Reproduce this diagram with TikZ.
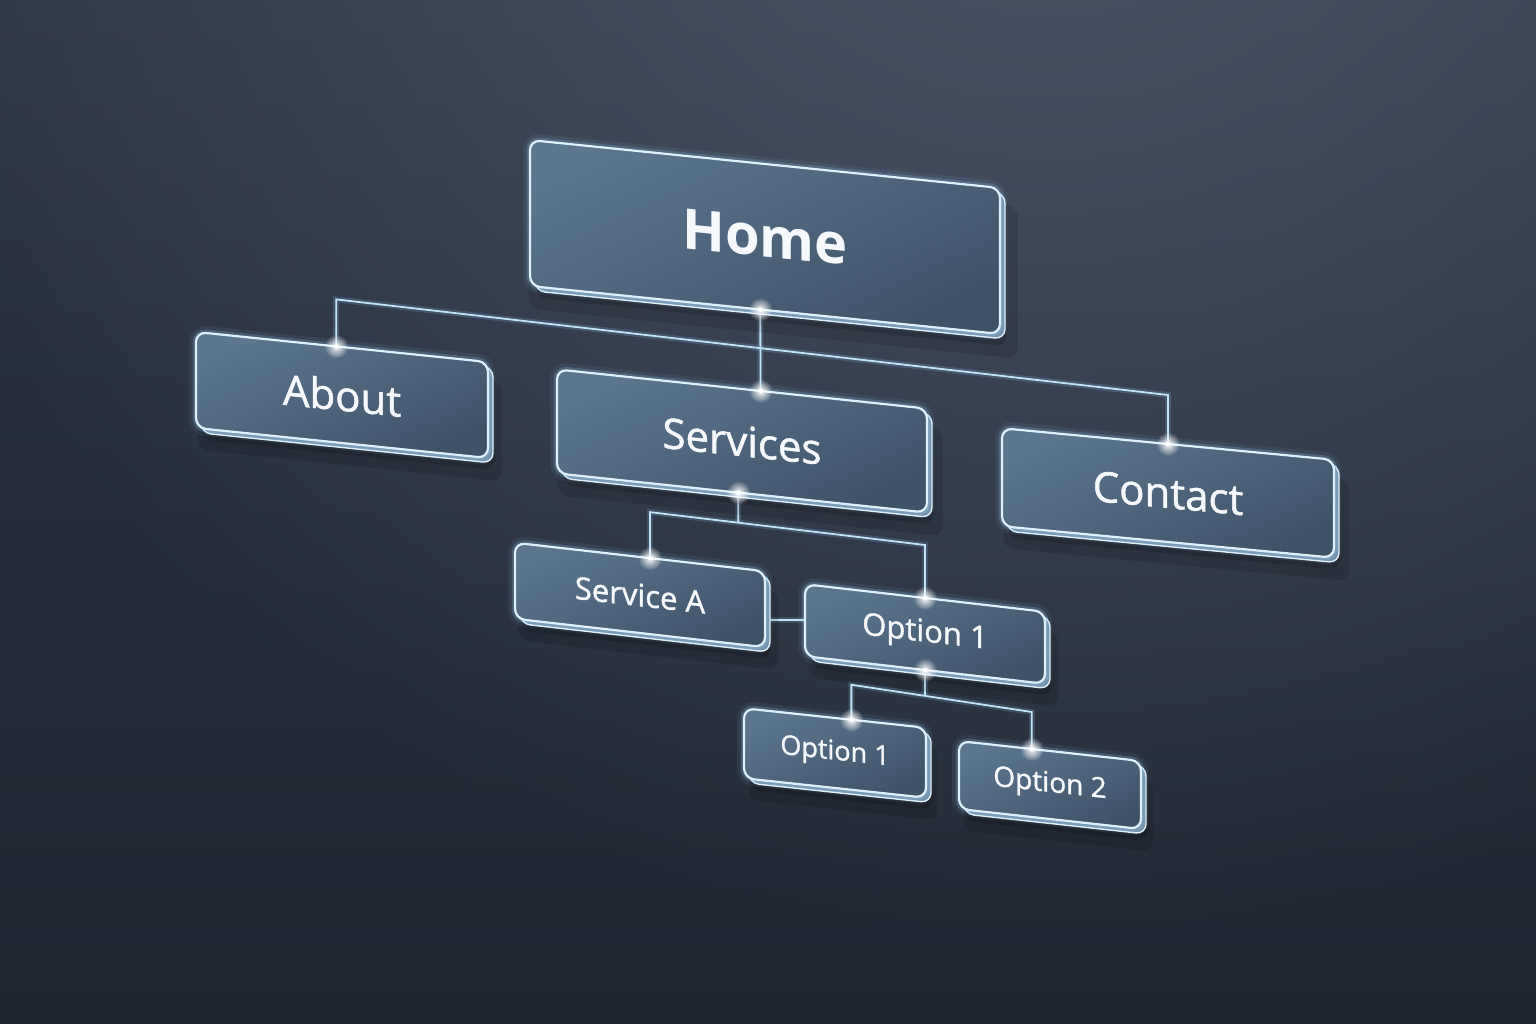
\documentclass[tikz,border=0pt]{standalone}
\usepackage{fontspec}
\setmainfont{Open Sans}
\newfontfamily\medfont[FakeBold=1.2]{Open Sans}
\usetikzlibrary{calc,shadows,fadings,intersections}
\definecolor{bgtop}{HTML}{2C3545}
\definecolor{bgbot}{HTML}{1F2632}
\definecolor{bghi}{HTML}{4E596B}
\definecolor{facetop}{HTML}{5C7690}
\definecolor{facebot}{HTML}{3F5368}
\definecolor{cardside}{HTML}{7592AC}
\definecolor{edgec}{HTML}{DDF0FB}
\definecolor{glowc}{HTML}{8EC8EF}
\definecolor{wirec}{HTML}{C2E2F6}
\definecolor{txt}{HTML}{F6F9FC}
\tikzfading[name=glowfade, inner color=transparent!0, outer color=transparent!100]
\pgfdeclarelayer{bg}
\pgfdeclarelayer{edges}
\pgfsetlayers{bg,edges,main}
\begin{document}
\begin{tikzpicture}[x=1pt,y=-1pt,
  card/.style={rectangle, rounded corners=10pt, transform shape, outer sep=0pt, inner sep=0pt,
    general shadow={fill=black, opacity=0.12, shadow xshift=8pt, shadow yshift=-20pt, shadow scale=1.04},
    general shadow={fill=black, opacity=0.14, shadow xshift=6pt, shadow yshift=-12pt},
    preaction={draw=glowc, line width=14pt, draw opacity=0.08},
    copy shadow={shadow xshift=5pt, shadow yshift=-5pt, fill=cardside, draw=edgec, line width=1.4pt, opacity=1},
    preaction={draw=glowc, line width=7pt, draw opacity=0.22},
    top color=facetop, bottom color=facebot, shading angle=25, draw=edgec, line width=2.2pt, text=txt},
  wire/.style={draw=wirec, line width=1.8pt, preaction={draw=glowc, line width=6pt, draw opacity=0.18}},
  bigtxt/.style={font=\bfseries\fontsize{56pt}{60pt}\selectfont},
  midtxt/.style={font=\medfont\fontsize{42pt}{46pt}\selectfont},
  smalltxt/.style={font=\medfont\fontsize{#1pt}{#1pt}\selectfont}
]
\useasboundingbox (0,0) rectangle (1536,1024);
\begin{pgfonlayer}{bg}
  \shade[top color=bgtop, bottom color=bgbot] (0,0) rectangle (1536,1024);
  \fill[bghi, path fading=glowfade] (1050,-300) circle (1250);
\end{pgfonlayer}

% cards
\node[card, bigtxt, shift={(765,237)}, yslant=-0.102, minimum width=470pt, minimum height=146pt] (home) at (0,0) {Home};
\node[card, midtxt, shift={(342,395)}, yslant=-0.103, minimum width=292pt, minimum height=96pt] (about) at (0,0) {About};
\node[card, midtxt, shift={(742,441)}, yslant=-0.106, minimum width=370pt, minimum height=104pt] (svc) at (0,0) {Services};
\node[card, midtxt, shift={(1168,493)}, yslant=-0.095, minimum width=332pt, minimum height=98pt] (contact) at (0,0) {Contact};
\node[card, smalltxt=31, shift={(640,595)}, yslant=-0.114, minimum width=250pt, minimum height=76pt] (sa) at (0,0) {Service A};
\node[card, smalltxt=31, shift={(925,634)}, yslant=-0.115, minimum width=240pt, minimum height=72pt] (o1) at (0,0) {Option 1};
\node[card, smalltxt=27, shift={(835,753)}, yslant=-0.107, minimum width=182pt, minimum height=70pt] (o1b) at (0,0) {Option 1};
\node[card, smalltxt=28, shift={(1050,785)}, yslant=-0.11, minimum width=182pt, minimum height=68pt] (o2) at (0,0) {Option 2};

% connection points
\coordinate (hb) at ($(home.south west)!0.49!(home.south east)$);
\coordinate (st) at ($(svc.north west)!0.55!(svc.north east)$);
\coordinate (at) at ($(about.north west)!0.48!(about.north east)$);
\coordinate (ct) at ($(contact.north west)!0.5!(contact.north east)$);
\coordinate (sb) at ($(svc.south west)!0.49!(svc.south east)$);
\coordinate (sat) at ($(sa.north west)!0.54!(sa.north east)$);
\coordinate (o1t) at (o1.north);
\coordinate (ob) at (o1.south);
\coordinate (o1bt) at ($(o1b.north west)!0.59!(o1b.north east)$);
\coordinate (o2t) at ($(o2.north west)!0.4!(o2.north east)$);

\begin{pgfonlayer}{edges}
  \draw[wire] (hb) -- (st);
  \draw[wire] (at) -- ++(0,-47) coordinate (a1) -- ($(ct)+(0,-49)$) coordinate (a2) -- (ct);
  \draw[wire] (sat) -- ++(0,-46) coordinate (s1) -- ($(o1t)+(0,-53)$) coordinate (s2) -- (o1t);
  \path[name path=bar2] (s1) -- (s2);
  \path[name path=v2] (sb) -- ++(0,80);
  \draw[wire, name intersections={of=bar2 and v2, by=x2}] (sb) -- (x2);
  \draw[wire] (o1bt) -- ++(0,-35) coordinate (t1) -- ($(o2t)+(0,-37)$) coordinate (t2) -- (o2t);
  \path[name path=bar3] (t1) -- (t2);
  \path[name path=v3] (ob) -- ++(0,60);
  \draw[wire, name intersections={of=bar3 and v3, by=x3}] (ob) -- (x3);
  \draw[wire] (sa.east |- o1.west) -- (o1.west);
\end{pgfonlayer}

% junction glows
\foreach \p in {hb,st,at,ct,sb,sat,o1t,ob,o1bt,o2t}{
  \fill[white, path fading=glowfade] (\p) circle (12);
  \fill[white] (\p) circle (2.2);
}
\end{tikzpicture}
\end{document}
